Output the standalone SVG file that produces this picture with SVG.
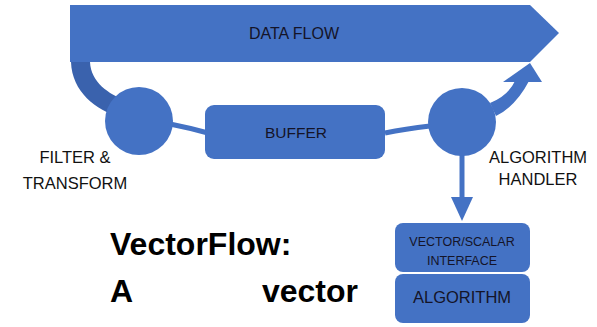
<svg xmlns="http://www.w3.org/2000/svg" width="597" height="327" viewBox="0 0 597 327">
<style>
.shape{fill:#4472C4;}
.band{fill:#3a62ad;}
.conn{fill:none;stroke:#4472C4;stroke-width:5;}
.in{font-family:"Liberation Sans",Arial,sans-serif;fill:#141428;text-anchor:middle;}
.lbl{font-family:"Liberation Sans",Arial,sans-serif;fill:#111;text-anchor:middle;font-size:16.5px;}
.title{font-family:"Liberation Sans",Arial,sans-serif;font-weight:bold;font-size:32px;fill:#000;}
</style>
<rect width="597" height="327" fill="#fff"/>
<g id="connectors">
<path class="band" d="M71,62 C72,92 96,110 120,117 L127,101 C108,94 91,82 90,62 Z"/>
<path class="conn" d="M170,124 Q190,128 208,133"/>
<path class="conn" d="M385,133 Q405,129 430,126"/>
<path class="shape" d="M490,103 Q508,96 515,81 L529,81 Q516,106 496,116 Z"/>
<polygon class="shape" points="503,82 530,63 542,82"/>
<line class="conn" x1="462" y1="150" x2="462" y2="200"/>
<polygon class="shape" points="451,197 473,197 462,221"/>
</g>
<g id="data-flow">
<polygon class="shape" points="70,5 530,5 559,33 530,62 70,62"/>
<text class="in" x="294" y="39" font-size="16">DATA FLOW</text>
</g>
<g id="filter-transform">
<circle class="shape" cx="139" cy="121" r="34"/>
<text class="lbl" x="75" y="163">FILTER &amp;</text>
<text class="lbl" x="75" y="189">TRANSFORM</text>
</g>
<g id="buffer">
<rect class="shape" x="205" y="105" width="180" height="54" rx="9"/>
<text class="in" x="296" y="138" font-size="15.5">BUFFER</text>
</g>
<g id="algorithm-handler">
<circle class="shape" cx="462" cy="122" r="34"/>
<text class="lbl" x="538" y="163">ALGORITHM</text>
<text class="lbl" x="538" y="185">HANDLER</text>
</g>
<g id="vector-scalar-interface">
<rect class="shape" x="395" y="223" width="135" height="49" rx="8"/>
<text class="in" x="462" y="246" font-size="12.5">VECTOR/SCALAR</text>
<text class="in" x="462" y="265" font-size="12.5">INTERFACE</text>
</g>
<g id="algorithm">
<rect class="shape" x="395" y="274" width="135" height="49" rx="8"/>
<text class="in" x="462" y="303" font-size="16.5">ALGORITHM</text>
</g>
<g id="caption">
<text class="title" x="110" y="255">VectorFlow:</text>
<text class="title" x="110" y="302">A</text>
<text class="title" x="358" y="302" text-anchor="end">vector</text>
</g>
</svg>
